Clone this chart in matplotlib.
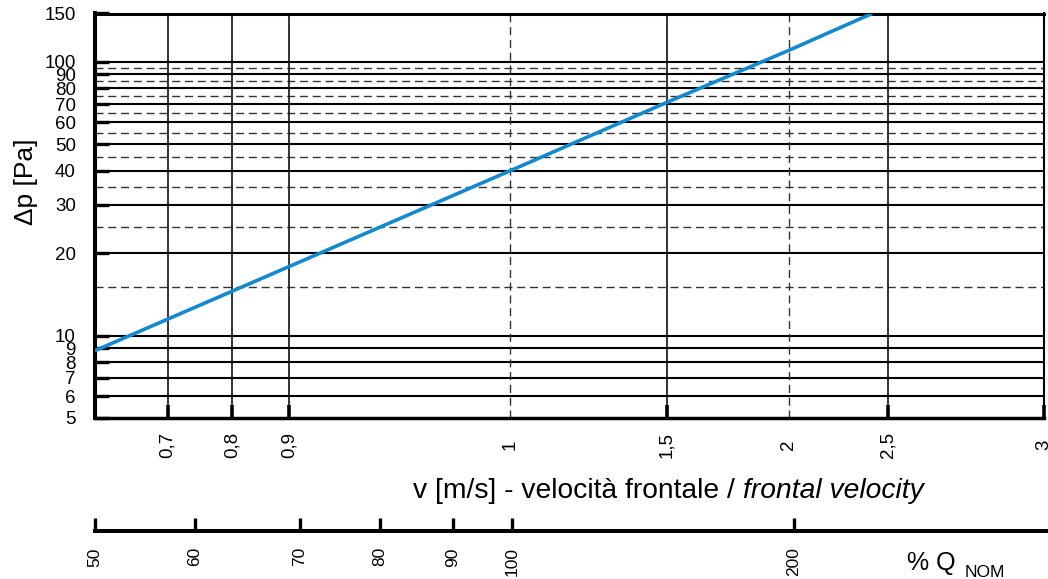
import numpy as np
import matplotlib
matplotlib.use('Agg')
import matplotlib.pyplot as plt
from matplotlib.ticker import FixedLocator, FixedFormatter, NullLocator

plt.rcParams['font.family'] = ['Liberation Sans', 'DejaVu Sans']

# ---------------- data ----------------
velocity = [0.5, 1.0, 1.5, 2.0, 2.42]          # m/s
pressure_drop = [8.8, 40, 71, 110, 150]         # Pa

v_ticks = [0.7, 0.8, 0.9, 1, 1.5, 2, 2.5, 3]
v_tick_labels = ['0,7', '0,8', '0,9', '1', '1,5', '2', '2,5', '3']
v_tick_marks = [0.7, 0.8, 0.9, 1.5, 2.5, 3]
v_grid_solid = [0.7, 0.8, 0.9, 1.5, 2.5]
v_grid_dashed = [1, 2]

dp_ticks = [5, 6, 7, 8, 9, 10, 20, 30, 40, 50, 60, 70, 80, 90, 100, 150]
dp_grid_solid = [6, 7, 8, 9, 10, 20, 30, 40, 50, 60, 70, 80, 90, 100]
dp_grid_dashed = [15, 25, 35, 45, 55, 65, 75, 85, 95]

q_ticks = [50, 60, 70, 80, 90, 100, 200]

# ---------- irregular axis geometry of the original chart ----------
V_KNOTS = [0.5, 0.7, 0.8, 0.9, 1.0, 1.5, 2.0, 2.5, 3.0]
V_KNOT_POS = [0, 73, 137.3, 194.6, 415.6, 572, 694, 793.3, 949]
Q_KNOTS = [50, 60, 70, 80, 90, 100, 200, 300]
Q_KNOT_POS = [0, 100, 205, 285, 357.7, 416.7, 699, 953]


def piecewise(knots, pos):
    k = np.asarray(knots, float)
    p = np.asarray(pos, float)

    def fwd(x):
        return np.interp(np.asarray(x, float), k, p)

    def inv(y):
        return np.interp(np.asarray(y, float), p, k)
    return fwd, inv


W, H = 1048, 579
fig = plt.figure(figsize=(W / 100, H / 100), dpi=100)

# ---------------- main axes ----------------
x0, x1, ytop, ybot = 94.7, 1043.7, 13.5, 418
ax = fig.add_axes([x0 / W, 1 - ybot / H, (x1 - x0) / W, (ybot - ytop) / H])
ax.set_yscale('log')
ax.set_xscale('function', functions=piecewise(V_KNOTS, V_KNOT_POS))
ax.set_xlim(0.5, 3)
ax.set_ylim(5, 150)

ax.spines['left'].set_linewidth(2.9)
ax.spines['bottom'].set_linewidth(2.5)
ax.spines['top'].set_linewidth(2.2)
ax.spines['right'].set_linewidth(1.5)

dash = (0, (5.8, 3.4))
for y in dp_grid_solid:
    ax.axhline(y, color='black', lw=1.5, zorder=1)
for y in dp_grid_dashed:
    ax.axhline(y, color='#333333', lw=1.0, ls=dash, zorder=1)
for x in v_grid_solid:
    ax.axvline(x, color='#111111', lw=1.2, zorder=1)
for x in v_grid_dashed:
    ax.axvline(x, color='#333333', lw=1.0, ls=dash, zorder=1)

ax.plot(velocity, pressure_drop, color='#1489d0', lw=2.6, zorder=3,
        solid_capstyle='butt')

# y ticks
ax.yaxis.set_major_locator(FixedLocator(dp_ticks))
ax.yaxis.set_major_formatter(FixedFormatter([str(t) for t in dp_ticks]))
ax.yaxis.set_minor_locator(NullLocator())
ax.tick_params(axis='y', which='major', direction='in', length=10.3, width=2.4,
               pad=13.5, labelsize=13.5, colors='black')

# x ticks: labels on major (no marks), marks on minor
ax.xaxis.remove_overlapping_locs = False
ax.xaxis.set_major_locator(FixedLocator(v_ticks))
ax.xaxis.set_major_formatter(FixedFormatter(v_tick_labels))
ax.xaxis.set_minor_locator(FixedLocator(v_tick_marks))
ax.tick_params(axis='x', which='major', length=0, pad=19.5, labelsize=13.5,
               labelrotation=90)
ax.tick_params(axis='x', which='minor', direction='in', length=9.5, width=2.6)
for lab in ax.xaxis.get_majorticklabels():
    lab.set_verticalalignment('center')

# ---------------- %Q axis ----------------
qx0, qx1, qy = 95, 1048, 530.5
qax = fig.add_axes([qx0 / W, 1 - qy / H, (qx1 - qx0) / W, 1 / H])
qax.set_xscale('function', functions=piecewise(Q_KNOTS, Q_KNOT_POS))
qax.set_xlim(50, 300)
qax.patch.set_visible(False)
for s in ('top', 'left', 'right'):
    qax.spines[s].set_visible(False)
qax.spines['bottom'].set_linewidth(2.9)
qax.yaxis.set_visible(False)
qax.xaxis.set_major_locator(FixedLocator(q_ticks))
qax.xaxis.set_major_formatter(FixedFormatter([str(q) for q in q_ticks]))
qax.xaxis.set_minor_locator(NullLocator())
qax.tick_params(axis='x', direction='in', length=9.7, width=2.4, pad=12,
                labelsize=12.5, labelrotation=90)

# ---------------- texts ----------------
fig.text(26 / W, 1 - 182 / H, 'Δp [Pa]', rotation=90, ha='center',
         va='center', fontsize=19, color='black')

renderer = fig.canvas.get_renderer()
xl_size = 20.3
t1 = fig.text(413 / W, 1 - 498 / H, 'v [m/s] - velocità frontale /',
              fontsize=xl_size, va='baseline', ha='left')
bb = t1.get_window_extent(renderer)
space_px = 0.278 * xl_size * 100 / 72
fig.text((bb.x1 + space_px) / W, 1 - 498 / H, 'frontal velocity',
         fontsize=xl_size, va='baseline', ha='left', style='italic')

fig.text(907 / W, 1 - 570 / H, '% Q', fontsize=18, va='baseline', ha='left')
fig.text(965 / W, 1 - 577 / H, 'NOM', fontsize=12.5, va='baseline', ha='left')

fig.savefig('out.png', dpi=100)
